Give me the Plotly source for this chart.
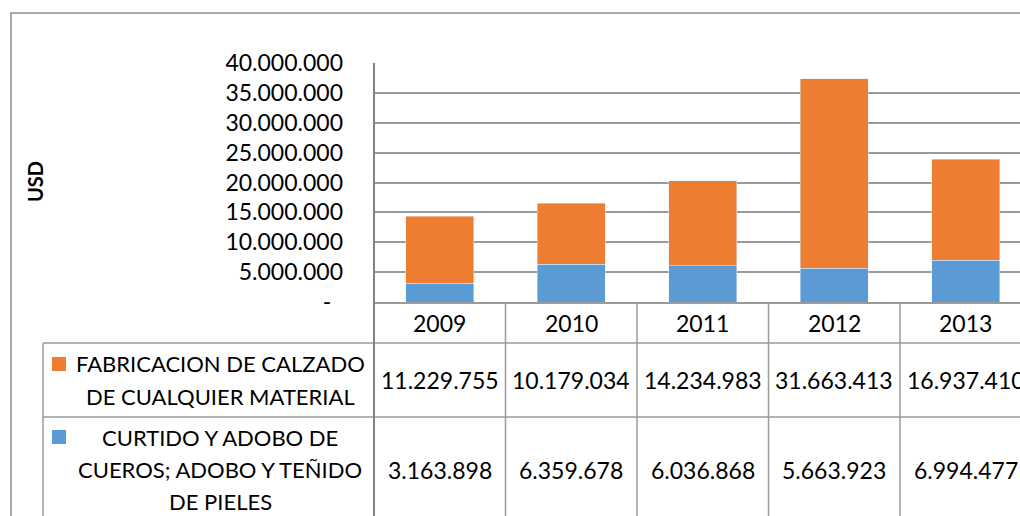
import plotly.graph_objects as go

years = ["2009", "2010", "2011", "2012", "2013"]
fabricacion = [11229755, 10179034, 14234983, 31663413, 16937410]
curtido = [3163898, 6359678, 6036868, 5663923, 6994477]
series_names = ["FABRICACION DE CALZADO<br>DE CUALQUIER MATERIAL",
                "CURTIDO Y ADOBO DE<br>CUEROS; ADOBO Y TEÑIDO<br>DE PIELES"]
y_ticks = [0, 5000000, 10000000, 15000000, 20000000, 25000000, 30000000, 35000000, 40000000]

ORANGE = "#ED7D31"
BLUE = "#5B9BD5"
GRID = "#9a9a9a"
TLINE = "#9a9a9a"
AXIS = "#828282"
FONT = "Lato"

W, H = 1020, 516
L, T, B = 374, 63, 302  # plot area in pixels


def px(x):
    return (x - L) / (W - L)


def py(y):
    return (B - y) / (B - T)


def fmt(v):
    return "-\u00a0\u00a0" if v == 0 else f"{v:,}".replace(",", ".")


fig = go.Figure()
fig.add_trace(go.Bar(x=years, y=curtido, marker_color=BLUE, width=0.52, name="curtido"))
fig.add_trace(go.Bar(x=years, y=fabricacion, marker_color=ORANGE, width=0.52, name="fabricacion"))

cat_w = 131.5
x_right = (W - L) / cat_w - 0.5

shapes = []
annotations = []

# outer chart border (top/left visible)
shapes.append(dict(type="rect", xref="paper", yref="paper", x0=px(11), x1=px(1200),
                   y0=py(700), y1=py(13), line=dict(color="#8c8c8c", width=1.5)))
# category separators in table
for i in range(1, len(years)):
    shapes.append(dict(type="line", xref="x", yref="paper", x0=i - 0.5, x1=i - 0.5,
                       y0=py(302), y1=py(530), line=dict(color=TLINE, width=1.5)))
# horizontal table lines
for yy in [343, 417]:
    shapes.append(dict(type="line", xref="paper", yref="paper", x0=px(43), x1=px(1100),
                       y0=py(yy), y1=py(yy), line=dict(color=TLINE, width=1.5)))
# legend column left line
shapes.append(dict(type="line", xref="paper", yref="paper", x0=px(43), x1=px(43),
                   y0=py(343), y1=py(530), line=dict(color=TLINE, width=1.5)))
# left plot/table line
shapes.append(dict(type="line", xref="paper", yref="paper", x0=0, x1=0, y0=py(63), y1=py(530),
                   line=dict(color=AXIS, width=2)))
# legend keys
for col, yk in [(ORANGE, 357), (BLUE, 430)]:
    shapes.append(dict(type="rect", xref="paper", yref="paper", x0=px(52), x1=px(66),
                       y0=py(yk + 14), y1=py(yk), fillcolor=col, line=dict(width=0)))

# year labels and values (x as category index)
for i, yr in enumerate(years):
    annotations.append(dict(x=i, y=py(323), xref="x", yref="paper", text=yr, showarrow=False,
                            font=dict(family=FONT, size=23, color="black"), xanchor="center", yanchor="middle"))
    annotations.append(dict(x=i, y=py(380), xref="x", yref="paper", text=fmt(fabricacion[i]),
                            showarrow=False, font=dict(family=FONT, size=23, color="black"),
                            xanchor="center", yanchor="middle"))
    annotations.append(dict(x=i, y=py(470), xref="x", yref="paper", text=fmt(curtido[i]),
                            showarrow=False, font=dict(family=FONT, size=23, color="black"),
                            xanchor="center", yanchor="middle"))

# series labels, one annotation per line
for name, ys in [(series_names[0], [363, 396]), (series_names[1], [437, 469, 501])]:
    for line, yy in zip(name.split("<br>"), ys):
        annotations.append(dict(x=px(220), y=py(yy), xref="paper", yref="paper", text=line,
                                showarrow=False, font=dict(family=FONT, size=22, color="black"),
                                xanchor="center", yanchor="middle"))

# axis title
annotations.append(dict(x=px(35), y=py(182), xref="paper", yref="paper", text="<b>USD</b>",
                        textangle=-90, showarrow=False, font=dict(family=FONT, size=20, color="black"),
                        xanchor="center", yanchor="middle"))

fig.update_layout(
    barmode="stack",
    width=W, height=H,
    margin=dict(l=L, r=0, t=T, b=H - B, pad=0),
    paper_bgcolor="white", plot_bgcolor="white",
    showlegend=False,
    shapes=shapes,
    annotations=annotations,
    font=dict(family=FONT, color="black"),
    xaxis=dict(type="category", range=[-0.5, x_right], showticklabels=False, ticks="",
               showgrid=False, showline=True, linecolor=GRID, linewidth=1.5, zeroline=False),
    yaxis=dict(range=[0, 40000000], tickvals=y_ticks, ticktext=[fmt(v) for v in y_ticks],
               showgrid=True, gridcolor=GRID, gridwidth=1.5, zeroline=False, showline=False,
               ticks="", ticklabelstandoff=30, tickfont=dict(family=FONT, size=23, color="black")),
)

fig.write_html("out.html", config={"displayModeBar": False},
               post_script="document.body.style.margin='0px';")
